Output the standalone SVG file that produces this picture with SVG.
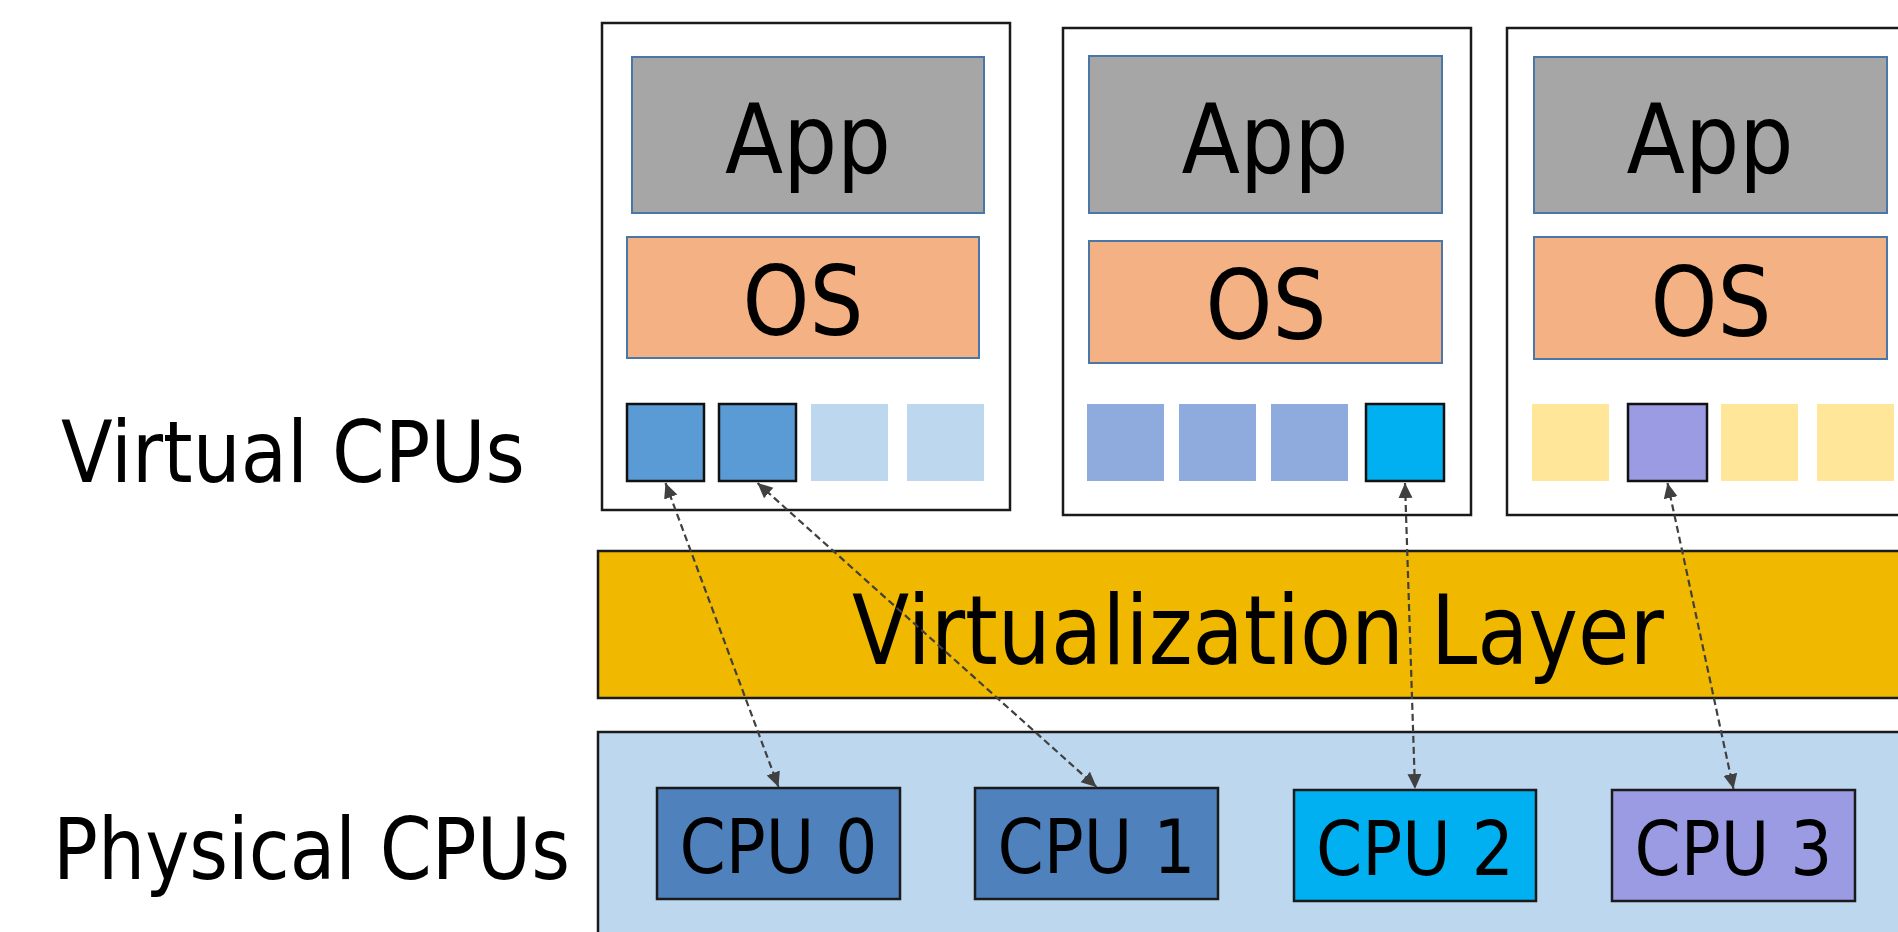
<svg xmlns="http://www.w3.org/2000/svg" width="1898" height="932" viewBox="0 0 1898 932">
  <style>
    text { font-family: "DejaVu Sans", "Liberation Sans", sans-serif; fill: #000; text-anchor: middle; }
    .vm { fill: #fff; stroke: #1a1a1a; stroke-width: 2.5; }
    .app { fill: #a6a6a6; stroke: #4a76a8; stroke-width: 2; }
    .os { fill: #f4b183; stroke: #4a76a8; stroke-width: 2; }
    .big { font-size: 96px; }
    .label { font-size: 85px; text-anchor: start; }
    .cpu { stroke: #1a1a1a; stroke-width: 2.5; }
    .cpuText { font-size: 74px; }
    .vcpuOn { stroke: #111; stroke-width: 2.5; }
    .link { fill: none; stroke: #404040; stroke-width: 2.2; stroke-dasharray: 7 4; marker-start: url(#head); marker-end: url(#head); }
  </style>
  <defs>
    <marker id="head" markerUnits="userSpaceOnUse" markerWidth="16" markerHeight="16" viewBox="0 0 16 16" refX="15" refY="8" orient="auto-start-reverse">
      <path d="M0,1 L15,8 L0,15 Z" fill="#404040"/>
    </marker>
  </defs>

  <rect width="1898" height="932" fill="#fff"/>

  <!-- row labels -->
  <g id="label-virtual">
    <text class="label" x="61" y="482" textLength="464" lengthAdjust="spacingAndGlyphs">Virtual CPUs</text>
  </g>
  <g id="label-physical">
    <text class="label" x="53" y="879" textLength="517" lengthAdjust="spacingAndGlyphs">Physical CPUs</text>
  </g>

  <!-- virtual machine 1 -->
  <g id="vm1">
    <rect class="vm" x="602" y="23" width="408" height="487"/>
    <rect class="app" x="632" y="57" width="352" height="156"/>
    <text class="big" x="808" y="173" textLength="166" lengthAdjust="spacingAndGlyphs">App</text>
    <rect class="os" x="627" y="237" width="352" height="121"/>
    <text class="big" x="803" y="335" textLength="121" lengthAdjust="spacingAndGlyphs">OS</text>
    <rect class="vcpuOn" x="627" y="404" width="77" height="77" fill="#5b9bd5"/>
    <rect class="vcpuOn" x="719" y="404" width="77" height="77" fill="#5b9bd5"/>
    <rect x="811" y="404" width="77" height="77" fill="#bdd7ee"/>
    <rect x="907" y="404" width="77" height="77" fill="#bdd7ee"/>
  </g>

  <!-- virtual machine 2 -->
  <g id="vm2">
    <rect class="vm" x="1063" y="28" width="408" height="487"/>
    <rect class="app" x="1089" y="56" width="353" height="157"/>
    <text class="big" x="1265" y="173" textLength="167" lengthAdjust="spacingAndGlyphs">App</text>
    <rect class="os" x="1089" y="241" width="353" height="122"/>
    <text class="big" x="1266" y="339" textLength="121" lengthAdjust="spacingAndGlyphs">OS</text>
    <rect x="1087" y="404" width="77" height="77" fill="#8faadc"/>
    <rect x="1179" y="404" width="77" height="77" fill="#8faadc"/>
    <rect x="1271" y="404" width="77" height="77" fill="#8faadc"/>
    <rect class="vcpuOn" x="1366" y="404" width="78" height="77" fill="#00b0f0"/>
  </g>

  <!-- virtual machine 3 -->
  <g id="vm3">
    <rect class="vm" x="1507" y="28" width="420" height="487"/>
    <rect class="app" x="1534" y="57" width="353" height="156"/>
    <text class="big" x="1710" y="173" textLength="167" lengthAdjust="spacingAndGlyphs">App</text>
    <rect class="os" x="1534" y="237" width="353" height="122"/>
    <text class="big" x="1711" y="336" textLength="121" lengthAdjust="spacingAndGlyphs">OS</text>
    <rect x="1532" y="404" width="77" height="77" fill="#ffe699"/>
    <rect class="vcpuOn" x="1628" y="404" width="79" height="77" fill="#9b9be3"/>
    <rect x="1721" y="404" width="77" height="77" fill="#ffe699"/>
    <rect x="1817" y="404" width="77" height="77" fill="#ffe699"/>
  </g>

  <!-- hypervisor band -->
  <g id="virtualization-layer">
    <rect x="598" y="551" width="1320" height="147" fill="#f1b800" stroke="#1a1a1a" stroke-width="2.5"/>
    <text x="1258" y="664" font-size="97" textLength="812" lengthAdjust="spacingAndGlyphs">Virtualization Layer</text>
  </g>

  <!-- physical host -->
  <g id="physical-host">
    <rect x="598" y="732" width="1320" height="220" fill="#bdd7ee" stroke="#1a1a1a" stroke-width="2.5"/>
  </g>
  <g id="cpu0">
    <rect class="cpu" x="657" y="788" width="243" height="111" fill="#4f81bd"/>
    <text class="cpuText" x="778.5" y="873" textLength="198" lengthAdjust="spacingAndGlyphs">CPU 0</text>
  </g>
  <g id="cpu1">
    <rect class="cpu" x="975" y="788" width="243" height="111" fill="#4f81bd"/>
    <text class="cpuText" x="1096.5" y="873" textLength="198" lengthAdjust="spacingAndGlyphs">CPU 1</text>
  </g>
  <g id="cpu2">
    <rect class="cpu" x="1294" y="790" width="242" height="111" fill="#00b0f0"/>
    <text class="cpuText" x="1415" y="875" textLength="198" lengthAdjust="spacingAndGlyphs">CPU 2</text>
  </g>
  <g id="cpu3">
    <rect class="cpu" x="1612" y="790" width="243" height="111" fill="#9b9be3"/>
    <text class="cpuText" x="1733.5" y="875" textLength="198" lengthAdjust="spacingAndGlyphs">CPU 3</text>
  </g>

  <!-- vCPU to pCPU mappings -->
  <g id="connectors">
    <line class="link" x1="665.5" y1="483" x2="778.5" y2="787"/>
    <line class="link" x1="757.5" y1="483" x2="1096.5" y2="787"/>
    <line class="link" x1="1405" y1="483" x2="1415" y2="789"/>
    <line class="link" x1="1667.5" y1="483" x2="1733.5" y2="789"/>
  </g>
</svg>
